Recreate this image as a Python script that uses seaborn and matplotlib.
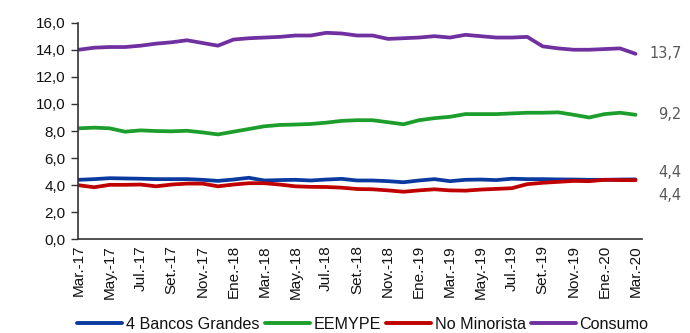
import matplotlib
matplotlib.use("Agg")
import matplotlib.pyplot as plt
from matplotlib import font_manager
from matplotlib.ticker import FuncFormatter
import pandas as pd
import seaborn as sns

# Monthly series, Mar-17 .. Mar-20
meses = ["Ene", "Feb", "Mar", "Abr", "May", "Jun", "Jul", "Ago", "Set", "Oct", "Nov", "Dic"]
periodos = [f"{meses[(2 + i) % 12]}.-{17 + (2 + i) // 12}" for i in range(37)]

bancos_grandes = [4.4, 4.45, 4.52, 4.5, 4.48, 4.45, 4.45, 4.45, 4.4, 4.32,
                  4.42, 4.55, 4.35, 4.38, 4.4, 4.35, 4.42, 4.47, 4.35, 4.35,
                  4.3, 4.22, 4.35, 4.45, 4.3, 4.4, 4.42, 4.38, 4.48, 4.45,
                  4.45, 4.43, 4.42, 4.4, 4.4, 4.42, 4.43]
eemype = [8.2, 8.25, 8.2, 7.95, 8.05, 8.0, 7.98, 8.02, 7.9, 7.75,
          7.95, 8.15, 8.35, 8.45, 8.48, 8.52, 8.62, 8.75, 8.8, 8.8,
          8.65, 8.5, 8.8, 8.95, 9.05, 9.25, 9.25, 9.25, 9.3, 9.35,
          9.35, 9.38, 9.2, 9.0, 9.25, 9.35, 9.2]
no_minorista = [4.0, 3.85, 4.03, 4.03, 4.05, 3.92, 4.05, 4.12, 4.12, 3.92,
                4.05, 4.15, 4.15, 4.05, 3.92, 3.88, 3.87, 3.82, 3.72, 3.7,
                3.62, 3.52, 3.62, 3.7, 3.62, 3.6, 3.68, 3.73, 3.78, 4.08,
                4.18, 4.25, 4.32, 4.3, 4.4, 4.38, 4.37]
consumo = [14.0, 14.15, 14.2, 14.2, 14.3, 14.45, 14.55, 14.7, 14.5, 14.3,
           14.75, 14.85, 14.9, 14.95, 15.05, 15.05, 15.25, 15.2, 15.05, 15.05,
           14.8, 14.85, 14.9, 15.0, 14.9, 15.1, 15.0, 14.9, 14.9, 14.95,
           14.25, 14.1, 14.0, 14.0, 14.05, 14.1, 13.7]

series = {
    "4 Bancos Grandes": bancos_grandes,
    "EEMYPE": eemype,
    "No Minorista": no_minorista,
    "Consumo": consumo,
}
colores = {
    "4 Bancos Grandes": "#0a3aa0",
    "EEMYPE": "#1c9e2c",
    "No Minorista": "#c00000",
    "Consumo": "#7030a0",
}
# vertical nudge (points) of the end-of-line value labels
desplaz = {"4 Bancos Grandes": 5, "EEMYPE": 0, "No Minorista": -11, "Consumo": 0}

df = pd.concat(
    [pd.DataFrame({"idx": range(len(v)), "valor": v, "serie": k}) for k, v in series.items()],
    ignore_index=True,
)

sns.set_theme(style="white")
plt.rcParams["font.family"] = ["Liberation Sans", "DejaVu Sans"]

nombres = {f.name for f in font_manager.fontManager.ttflist}
fuente_x = "Liberation Sans Narrow" if "Liberation Sans Narrow" in nombres else "Liberation Sans"

fig = plt.figure(figsize=(6.9, 3.33), dpi=100)
ax = fig.add_axes([0.113, 0.281, 0.817, 0.651])

sns.lineplot(data=df, x="idx", y="valor", hue="serie", palette=colores,
             linewidth=2.7, ax=ax, legend=False)

ax.set_ylim(0, 16)
ax.set_xlim(-0.05, 36.4)
ax.set_yticks(range(0, 17, 2))
ax.yaxis.set_major_formatter(FuncFormatter(lambda v, p: f"{v:.1f}".replace(".", ",")))
ax.set_xticks(range(0, 37, 2))
ax.set_xticklabels(periodos[::2], rotation=90, fontfamily=fuente_x, fontsize=11)
ax.tick_params(axis="y", labelsize=11, length=5, width=1, color="#333333",
               left=True, pad=4, labelcolor="#111111")
ax.tick_params(axis="x", length=0, pad=4, labelcolor="#111111")
ax.set_xlabel("")
ax.set_ylabel("")
for lado in ["top", "right"]:
    ax.spines[lado].set_visible(False)
ax.spines["left"].set_color("#333333")
ax.spines["bottom"].set_color("#333333")
ax.spines["left"].set_linewidth(1.2)
ax.spines["bottom"].set_linewidth(1.2)

for nombre, valores in series.items():
    ultimo = valores[-1]
    ax.annotate(f"{ultimo:.1f}".replace(".", ","), xy=(len(valores) - 1, ultimo),
                xytext=(33, desplaz[nombre]), textcoords="offset points",
                ha="right", va="center", fontsize=10.5, color="#595959",
                fontfamily="DejaVu Sans")

manijas = [plt.Line2D([], [], color=colores[k], linewidth=2.8) for k in series]
fig.legend(manijas, list(series.keys()), loc="center", bbox_to_anchor=(0.526, 0.027),
           ncol=4, frameon=False, fontsize=11.6, handlelength=2.8, handletextpad=0.2,
           columnspacing=0.35, labelcolor="#111111")

fig.savefig("out.png", dpi=100)
